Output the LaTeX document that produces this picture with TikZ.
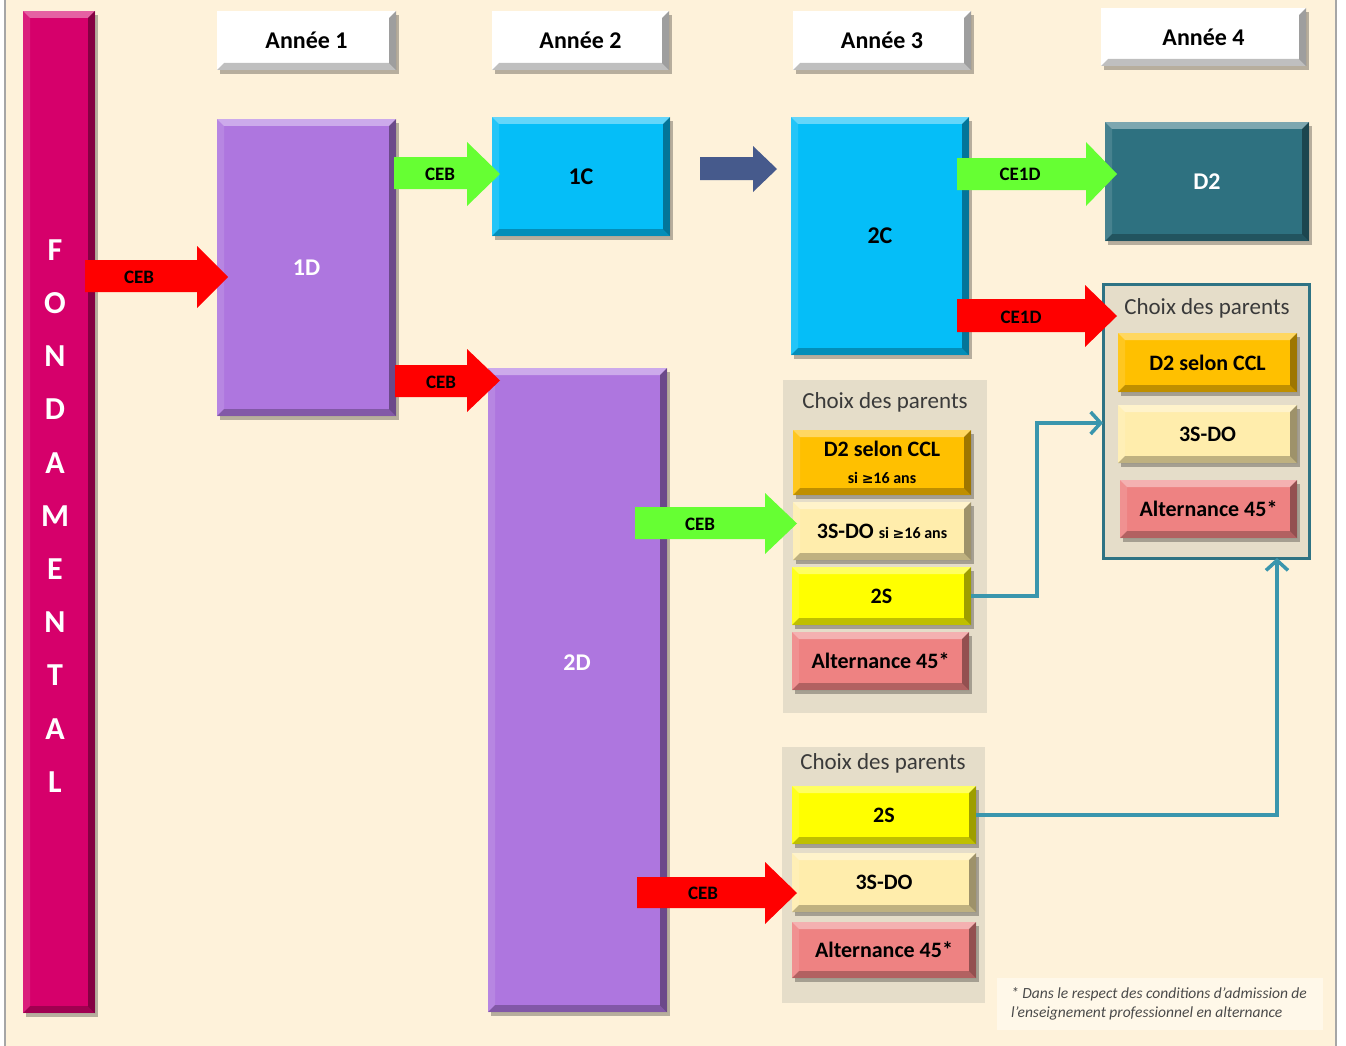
\documentclass[tikz,border=0pt]{standalone}
\usepackage{fontspec}
\setmainfont{Carlito}
\newfontfamily\symfont{DejaVu Sans}
\usetikzlibrary{shadows,arrows.meta,calc}
\definecolor{cream}{HTML}{FEF2DA}
\definecolor{magbar}{HTML}{D6006B}
\definecolor{purp}{HTML}{AE76DF}
\definecolor{cyanb}{HTML}{05BEF8}
\definecolor{tealbox}{HTML}{2E7180}
\definecolor{goldb}{HTML}{FFC000}
\definecolor{ltyel}{HTML}{FFEDAC}
\definecolor{yelb}{HTML}{FFFF00}
\definecolor{pinkb}{HTML}{EE8282}
\definecolor{grpfill}{HTML}{E5DDC9}
\definecolor{grpline}{HTML}{2E7384}
\definecolor{conncol}{HTML}{3A96AD}
\definecolor{redar}{HTML}{FF0000}
\definecolor{greenar}{HTML}{66FF33}
\definecolor{slatear}{HTML}{465A8C}
\definecolor{ttlgray}{HTML}{3A3A3A}
\definecolor{fnfill}{HTML}{FFF8E9}
\definecolor{fntext}{HTML}{4A4A4A}
\newcommand\blkarrow[8]{\fill[#1] (#2,#5) -- (#3,#5) -- (#3,#7) -- (#4,{(#7+#8)/2}) -- (#3,#8) -- (#3,#6) -- (#2,#6) -- cycle;}
\newcommand\rbox[7]{\node[#6, minimum width={#4-#2}, minimum height={#5-#3}] (#1) at ({(#2+#4)/2},{(#3+#5)/2}) {#7};}
\newcommand\agesub{{\fontsize{16}{18}\selectfont si {\symfont\fontsize{14}{18}\selectfont ≥}16 ans}}
\tikzset{
  bevel/.style={path picture={
    \path (path picture bounding box.south west) coordinate (bvSW)
          (path picture bounding box.north east) coordinate (bvNE)
          (path picture bounding box.north west) coordinate (bvNW)
          (path picture bounding box.south east) coordinate (bvSE);
    \fill[white,opacity=.38] (bvNW) -- (bvNE) -- ([shift={(-7pt,-7pt)}]bvNE) -- ([shift={(7pt,-7pt)}]bvNW) -- cycle;
    \fill[white,opacity=.12] (bvNW) -- ([shift={(7pt,-7pt)}]bvNW) -- ([shift={(7pt,7pt)}]bvSW) -- (bvSW) -- cycle;
    \fill[black,opacity=.38] (bvNE) -- (bvSE) -- ([shift={(-7pt,7pt)}]bvSE) -- ([shift={(-7pt,-7pt)}]bvNE) -- cycle;
    \fill[black,opacity=.25] (bvSW) -- (bvSE) -- ([shift={(-7pt,7pt)}]bvSE) -- ([shift={(7pt,7pt)}]bvSW) -- cycle;
  }},
  bx/.style={rectangle, inner sep=0pt, outer sep=0pt, bevel,
    drop shadow={shadow xshift=3pt,shadow yshift=-4pt,opacity=.28,fill=black}, text=black},
  big/.style={font=\fontsize{24}{28}\selectfont\bfseries},
  lab/.style={font=\fontsize{22}{26}\selectfont\bfseries},
  arrl/.style={font=\fontsize{19}{21}\selectfont\bfseries, text=black, inner sep=0pt},
  ttl/.style={font=\fontsize{23}{26}\selectfont, text=ttlgray, inner sep=0pt},
  letter/.style={font=\fontsize{32}{34}\selectfont\bfseries, text=white, inner sep=0pt},
  grp/.style={rectangle, inner sep=0pt, outer sep=0pt, fill=grpfill},
  conn/.style={draw=conncol, line width=3.5pt, -{Straight Barb[length=10pt,width=22pt]}},
}
\begin{document}
\begin{tikzpicture}[x=1pt,y=-1pt]
\useasboundingbox (0,0) rectangle (1346,1046);
% background
\fill[white] (0,0) rectangle (1346,1046);
\fill[cream] (5,0) rectangle (1336,1046);
\draw[gray!70,line width=1.2pt] (5,0) -- (5,1046) (1336,0) -- (1336,1046);

% groups
\rbox{grpR}{1103}{284}{1309}{558}{grp,draw=grpline,line width=3pt}{}
\rbox{grpA}{783}{380}{987}{713}{grp}{}
\rbox{grpB}{782}{747}{985}{1003}{grp}{}
\node[ttl] (tR) at (1207,308) {Choix des parents};
\node[ttl] (tA) at (885,402) {Choix des parents};
\node[ttl] (tB) at (883,763) {Choix des parents};

% FONDAMENTAL bar
\rbox{bar}{23}{11}{95}{1013}{bx,fill=magbar}{}
\foreach \l [count=\i] in {F,O,N,D,A,M,E,N,T,A,L}
  \node[letter] (L\i) at (55,{250+53.2*(\i-1)}) {\l};

% year headers
\rbox{y1}{217}{11}{396}{70}{bx,fill=white,big}{Année 1}
\rbox{y2}{492}{11}{669}{70}{bx,fill=white,big}{Année 2}
\rbox{y3}{793}{11}{971}{70}{bx,fill=white,big}{Année 3}
\rbox{y4}{1101}{8}{1306}{66}{bx,fill=white,big}{Année 4}

% main boxes
\rbox{d1}{217}{119}{396}{416}{bx,fill=purp,big,text=white}{1D}
\rbox{c1}{492}{117}{670}{236}{bx,fill=cyanb,big}{1C}
\rbox{d2}{488}{368}{667}{1012}{bx,fill=purp}{}
\node[big,text=white,inner sep=0pt] (d2t) at (577,663) {2D};
\rbox{c2}{791}{117}{969}{355}{bx,fill=cyanb,big}{2C}
\rbox{dd}{1105}{122}{1309}{241}{bx,fill=tealbox,big,text=white}{D2}

% right group
\rbox{ra}{1118}{333}{1297}{392}{bx,fill=goldb,lab}{D2 selon CCL}
\rbox{rb}{1118}{405}{1297}{463}{bx,fill=ltyel,lab}{3S-DO}
\rbox{rc}{1120}{480}{1297}{538}{bx,fill=pinkb,lab}{Alternance 45*}

% middle group A
\rbox{pa}{793}{430}{971}{495}{bx,fill=goldb,lab,align=center}{D2 selon CCL\\[1pt]\agesub}
\rbox{pb}{793}{502}{971}{560}{bx,fill=ltyel,lab}{3S-DO \agesub}
\rbox{pc}{792}{567}{971}{625}{bx,fill=yelb,lab}{2S}
\rbox{pd}{792}{632}{969}{690}{bx,fill=pinkb,lab}{Alternance 45*}

% middle group B
\rbox{qa}{792}{786}{976}{844}{bx,fill=yelb,lab}{2S}
\rbox{qb}{792}{853}{976}{912}{bx,fill=ltyel,lab}{3S-DO}
\rbox{qc}{792}{922}{976}{978}{bx,fill=pinkb,lab}{Alternance 45*}

% block arrows
\blkarrow{redar}{85}{197}{228}{260}{292}{246}{308}
\node[arrl] (k1) at (139,277) {CEB};
\blkarrow{greenar}{394}{467}{500}{157}{189}{142}{206}
\node[arrl] (k2) at (440,174) {CEB};
\blkarrow{redar}{395}{467}{500}{365}{397}{349}{412}
\node[arrl] (k3) at (441,382) {CEB};
\blkarrow{slatear}{700}{753}{777}{157}{180}{146}{192}
\blkarrow{greenar}{957}{1086}{1117}{158}{190}{142}{206}
\node[arrl] (k4) at (1020,174) {CE1D};
\blkarrow{redar}{957}{1085}{1117}{299}{332}{285}{347}
\node[arrl] (k5) at (1021,317) {CE1D};
\blkarrow{greenar}{635}{765}{797}{507}{539}{493}{554}
\node[arrl] (k6) at (700,524) {CEB};
\blkarrow{redar}{637}{765}{797}{877}{908}{862}{924}
\node[arrl] (k7) at (703,893) {CEB};

% connectors
\coordinate (j1) at (1037,423);
\draw[conn] (pc.east) -| (j1) -- (j1 -| grpR.west);
\coordinate (j2) at (1277,815);
\draw[conn] (qa.east) -- (j2) -- (j2 |- grpR.south);

% footnote
\rbox{fn}{997}{978}{1323}{1030}{rectangle,inner sep=0pt,fill=fnfill}{}
\node[anchor=west, align=left, inner sep=0pt, text=fntext, font=\fontsize{15.5}{19}\selectfont\itshape] (fnt) at (1011,1004)
  {* Dans le respect des conditions d’admission de\\ l’enseignement professionnel en alternance};
\end{tikzpicture}
\end{document}
